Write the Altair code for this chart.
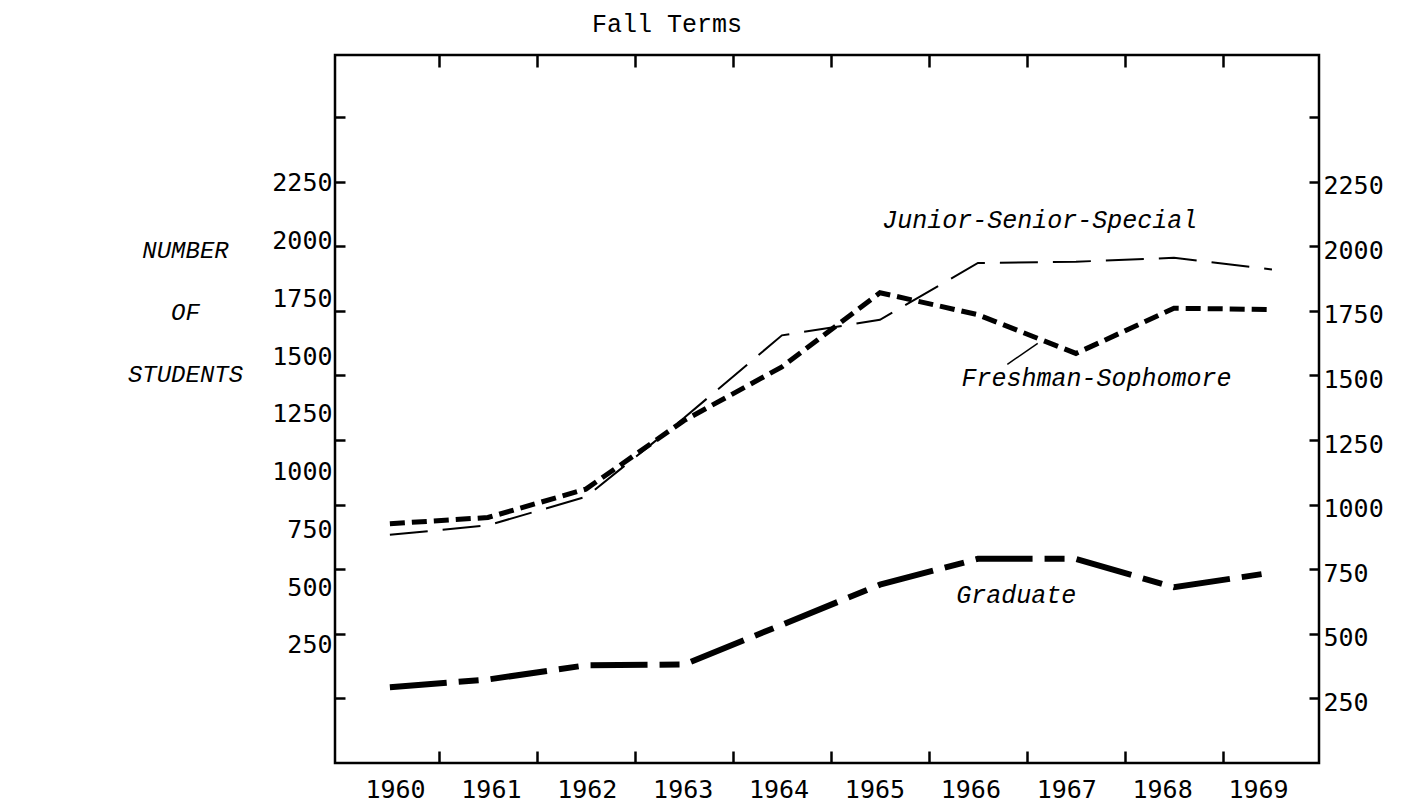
import altair as alt
import pandas as pd

# ---- data ----
years = [1960, 1961, 1962, 1963, 1964, 1965, 1966, 1967, 1968, 1969]
freshman_sophomore = [926, 950, 1060, 1325, 1533, 1820, 1735, 1585, 1760, 1755]
junior_senior_special = [883, 920, 1030, 1335, 1655, 1715, 1935, 1940, 1955, 1910]
graduate = [293, 323, 378, 381, 535, 690, 790, 790, 680, 737]

y_tick_values = [250, 500, 750, 1000, 1250, 1500, 1750, 2000, 2250, 2500]
y_label_values = [250, 500, 750, 1000, 1250, 1500, 1750, 2000, 2250]
x_tick_values = [1960.5, 1961.5, 1962.5, 1963.5, 1964.5, 1965.5, 1966.5, 1967.5, 1968.5]

series_names = ["Junior-Senior-Special", "Freshman-Sophomore", "Graduate"]
series_label_year = [1966.63, 1967.21, 1966.39]
series_label_value = [2100, 1490, 652]

leader_year = [1966.30]
leader_year2 = [1966.61]
leader_value = [1543]
leader_value2 = [1624]

chart_title = ["Fall Terms"]
y_title = ["NUMBER", "OF", "STUDENTS"]

X_DOMAIN = [1959.44, 1969.48]
X_LABEL_DOMAIN = [1959.374, 1969.636]
Y_DOMAIN = [0, 2740]
Y_LEFT_LABEL_DOMAIN = [-261, 2804]

W, H = 984, 708
MONO = "DejaVu Sans Mono"
TYPE = "Liberation Mono"

df = pd.DataFrame({
    "year": years * 3,
    "value": freshman_sophomore + junior_senior_special + graduate,
    "series": ["Freshman-Sophomore"] * 10 + ["Junior-Senior-Special"] * 10 + ["Graduate"] * 10,
})
df_ylab = pd.DataFrame({"v": y_label_values})
df_xlab = pd.DataFrame({"year": years})
df_text = pd.DataFrame({"name": series_names, "year": series_label_year, "value": series_label_value})
df_leader = pd.DataFrame({"x": leader_year, "x2": leader_year2, "y": leader_value, "y2": leader_value2})
df_title = pd.DataFrame({"t": chart_title})

xs = alt.Scale(domain=X_DOMAIN, nice=False, zero=False)
ys = alt.Scale(domain=Y_DOMAIN, nice=False, zero=False)


def line(series, width, dash):
    return alt.Chart(df).transform_filter(alt.datum.series == series).mark_line(
        color="black", strokeWidth=width, strokeDash=dash, strokeCap="butt"
    )


right_axis = alt.Axis(
    orient="right", values=y_tick_values, format="d",
    labelExpr="datum.value > 2250 ? '' : datum.label",
    tickSize=10, offset=-10, domain=False, grid=False, tickWidth=2.5, tickColor="black",
    labelPadding=4, labelFont=MONO, labelFontSize=25, labelColor="black", labelOffset=4,
    labelOverlap=False, title=None,
)

fresh = line("Freshman-Sophomore", 5, [15, 7]).encode(
    x=alt.X("year:Q", scale=xs, axis=None),
    y=alt.Y("value:Q", scale=ys, axis=right_axis),
)
junior = line("Junior-Senior-Special", 2, [38, 15]).encode(
    x=alt.X("year:Q", scale=xs, axis=None),
    y=alt.Y("value:Q", scale=ys, axis=None),
)
grad = line("Graduate", 6, [57, 12, 20, 12]).encode(
    x=alt.X("year:Q", scale=xs, axis=None),
    y=alt.Y("value:Q", scale=ys, axis=None),
)

ticks_bl = alt.Chart(df).mark_point(opacity=0, size=1).encode(
    x=alt.X("year:Q", scale=xs, axis=alt.Axis(
        orient="bottom", values=x_tick_values, labels=False, tickSize=12, offset=-12,
        domain=False, grid=False, tickWidth=2.5, tickColor="black", title=None)),
    y=alt.Y("value:Q", scale=ys, axis=alt.Axis(
        orient="left", values=y_tick_values, labels=False, tickSize=10, offset=-10,
        domain=False, grid=False, tickWidth=2.5, tickColor="black", title=None)),
)
ticks_top = alt.Chart(df).mark_point(opacity=0, size=1).encode(
    x=alt.X("year:Q", scale=xs, axis=alt.Axis(
        orient="top", values=x_tick_values, labels=False, tickSize=12, offset=-12,
        domain=False, grid=False, tickWidth=2.5, tickColor="black", title=None)),
    y=alt.Y("value:Q", scale=ys, axis=None),
)

xlabels = alt.Chart(df_xlab).mark_point(opacity=0, size=1).encode(
    x=alt.X("year:Q", scale=alt.Scale(domain=X_LABEL_DOMAIN, nice=False, zero=False), axis=alt.Axis(
        orient="bottom", values=years, format="d", ticks=False, domain=False, grid=False,
        labelPadding=14, labelFont=MONO, labelFontSize=25, labelColor="black",
        labelFlush=False, labelOverlap=False, title=None)),
)

ylabels = alt.Chart(df_ylab).mark_point(opacity=0, size=1).encode(
    y=alt.Y("v:Q", scale=alt.Scale(domain=Y_LEFT_LABEL_DOMAIN, nice=False, zero=False), axis=alt.Axis(
        orient="left", values=y_label_values, format="d", ticks=False, domain=False, grid=False,
        labelPadding=3, labelFont=MONO, labelFontSize=25, labelColor="black", labelOverlap=False,
        title=y_title, titleAngle=0, titleX=-150, titleY=195,
        titleAlign="center", titleBaseline="middle", titleFont=TYPE, titleFontStyle="italic",
        titleFontWeight="normal", titleFontSize=24, titleLineHeight=62, titleColor="black")),
)

texts = alt.Chart(df_text).mark_text(
    font=TYPE, fontStyle="italic", fontSize=25, color="black", align="center", baseline="middle"
).encode(
    x=alt.X("year:Q", scale=xs, axis=None),
    y=alt.Y("value:Q", scale=ys, axis=None),
    text="name:N",
)

leader = alt.Chart(df_leader).mark_rule(color="black", strokeWidth=1.5).encode(
    x=alt.X("x:Q", scale=xs, axis=None),
    x2="x2:Q",
    y=alt.Y("y:Q", scale=ys, axis=None),
    y2="y2:Q",
)

title = alt.Chart(df_title).mark_text(
    font=TYPE, fontSize=25, color="black", align="left", baseline="middle"
).encode(
    x=alt.value(257), y=alt.value(-31), text="t:N"
)

chart = alt.layer(
    fresh, junior, grad, ticks_bl, ticks_top, xlabels, ylabels, texts, leader, title
).resolve_scale(
    x="independent", y="independent"
).resolve_axis(
    x="independent", y="independent"
).properties(
    width=W, height=H,
    padding={"left": 327, "top": 47, "right": 70, "bottom": 40},
    autosize=alt.AutoSizeParams(type="none"),
).configure(
    background="white"
).configure_view(
    stroke="black", strokeWidth=2.5
)

chart.save("out.html", embed_options={"renderer": "svg", "actions": False})
